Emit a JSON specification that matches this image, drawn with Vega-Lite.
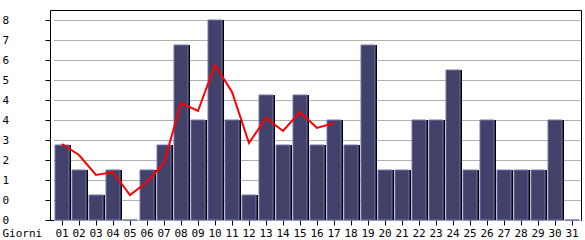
{
  "$schema": "https://vega.github.io/schema/vega-lite/v6.json",
  "width": 531,
  "height": 210,
  "autosize": {"type": "none"},
  "padding": {"left": 50, "top": 10, "right": 4, "bottom": 20},
  "background": "white",
  "config": {
    "view": {"stroke": "black", "strokeWidth": 1},
    "axis": {
      "labelFont": "DejaVu Sans Mono",
      "labelFontSize": 11,
      "labelColor": "black",
      "titleFont": "DejaVu Sans Mono",
      "titleFontSize": 11,
      "titleFontWeight": "normal",
      "titleColor": "black",
      "tickColor": "black",
      "domain": false
    }
  },
  "data": {
    "values": [
      {"day": "01", "v": 3, "avg": 3.04},
      {"day": "02", "v": 2, "avg": 2.6},
      {"day": "03", "v": 1, "avg": 1.8},
      {"day": "04", "v": 2, "avg": 1.92},
      {"day": "05", "v": 0, "avg": 1.0},
      {"day": "06", "v": 2, "avg": 1.52},
      {"day": "07", "v": 3, "avg": 2.28},
      {"day": "08", "v": 7, "avg": 4.68},
      {"day": "09", "v": 4, "avg": 4.36},
      {"day": "10", "v": 8, "avg": 6.2},
      {"day": "11", "v": 4, "avg": 5.12},
      {"day": "12", "v": 1, "avg": 3.08},
      {"day": "13", "v": 5, "avg": 4.08},
      {"day": "14", "v": 3, "avg": 3.56},
      {"day": "15", "v": 5, "avg": 4.32},
      {"day": "16", "v": 3, "avg": 3.68},
      {"day": "17", "v": 4, "avg": 3.88},
      {"day": "18", "v": 3, "avg": null},
      {"day": "19", "v": 7, "avg": null},
      {"day": "20", "v": 2, "avg": null},
      {"day": "21", "v": 2, "avg": null},
      {"day": "22", "v": 4, "avg": null},
      {"day": "23", "v": 4, "avg": null},
      {"day": "24", "v": 6, "avg": null},
      {"day": "25", "v": 2, "avg": null},
      {"day": "26", "v": 4, "avg": null},
      {"day": "27", "v": 2, "avg": null},
      {"day": "28", "v": 2, "avg": null},
      {"day": "29", "v": 2, "avg": null},
      {"day": "30", "v": 4, "avg": null},
      {"day": "31", "v": 0, "avg": null}
    ]
  },
  "encoding": {
    "x": {
      "field": "day",
      "type": "ordinal",
      "scale": {"type": "band", "range": [3.5, 530.5], "paddingInner": 0, "paddingOuter": 0},
      "axis": {
        "title": "Giorni",
        "labelAngle": 0,
        "tickSize": 5,
        "labelPadding": 2,
        "titleX": -48,
        "titleY": 7,
        "titleAlign": "left",
        "titleBaseline": "top",
        "grid": false
      }
    }
  },
  "layer": [
    {
      "mark": {"type": "bar", "width": 14, "xOffset": 2, "color": "black"},
      "encoding": {
        "y": {
          "field": "v",
          "type": "quantitative",
          "scale": {"domain": [0, 8.4], "nice": false, "zero": true},
          "axis": {
            "values": [0, 0.8, 1.6, 2.4, 3.2, 4, 4.8, 5.6, 6.4, 7.2, 8],
            "labelExpr": "floor(datum.value)",
            "title": null,
            "tickSize": 5,
            "labelAlign": "left",
            "labelBaseline": "middle",
            "labelPadding": 43,
            "grid": true,
            "gridColor": "#b0b0b0",
            "labelOverlap": false
          }
        }
      }
    },
    {
      "mark": {"type": "bar", "width": 14, "fill": "#414169", "stroke": "#7474b4", "strokeWidth": 1},
      "encoding": {
        "y": {
          "field": "v",
          "type": "quantitative",
          "axis": {
            "values": [0, 0.8, 1.6, 2.4, 3.2, 4, 4.8, 5.6, 6.4, 7.2, 8],
            "labelExpr": "floor(datum.value)",
            "title": null,
            "tickSize": 5,
            "labelAlign": "left",
            "labelBaseline": "middle",
            "labelPadding": 43,
            "grid": true,
            "gridColor": "#b0b0b0",
            "labelOverlap": false
          }
        }
      }
    },
    {
      "mark": {"type": "line", "color": "#ff0000", "strokeWidth": 2},
      "encoding": {
        "y": {
          "field": "avg",
          "type": "quantitative",
          "axis": {
            "values": [0, 0.8, 1.6, 2.4, 3.2, 4, 4.8, 5.6, 6.4, 7.2, 8],
            "labelExpr": "floor(datum.value)",
            "title": null,
            "tickSize": 5,
            "labelAlign": "left",
            "labelBaseline": "middle",
            "labelPadding": 43,
            "grid": true,
            "gridColor": "#b0b0b0",
            "labelOverlap": false
          }
        }
      }
    }
  ]
}
